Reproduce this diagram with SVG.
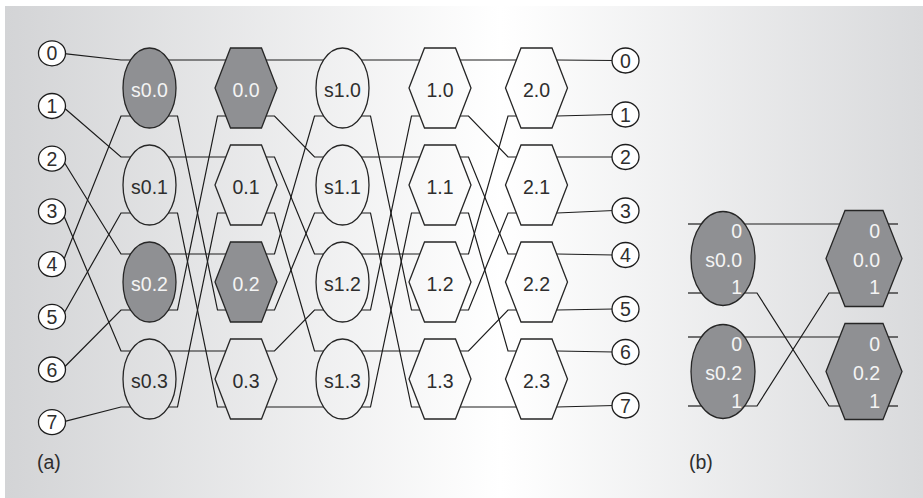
<svg xmlns="http://www.w3.org/2000/svg" width="923" height="498" viewBox="0 0 923 498">
  <defs>
    <linearGradient id="bg" gradientUnits="userSpaceOnUse" x1="5" y1="0" x2="923" y2="0">
      <stop offset="0" stop-color="#d3d4d6"/>
      <stop offset="0.54" stop-color="#ffffff"/>
      <stop offset="1" stop-color="#d9dadc"/>
    </linearGradient>
  </defs>
  <style>
    text { font-family: "Liberation Sans", Arial, sans-serif; font-size: 19.5px; }
    .wire { fill: none; stroke: #1c1c1c; stroke-width: 1.2; }
    .plain { fill: url(#bg); stroke: #262626; stroke-width: 1.3; }
    .dark { fill: #8f9093; stroke: #262626; stroke-width: 1.3; }
    .term { fill: #ffffff; stroke: #1c1c1c; stroke-width: 1.3; }
    .lbl { fill: #2e2e2e; text-anchor: middle; }
    .lblw { fill: #f4f4f4; text-anchor: middle; }
    .lblwr { fill: #f4f4f4; text-anchor: end; }
    .cap { fill: #2e2e2e; }
  </style>

  <!-- backdrop -->
  <rect x="0" y="0" width="923" height="498" fill="#ffffff"/>
  <rect x="5" y="6" width="918" height="492" fill="url(#bg)"/>

  <!-- wiring -->
  <g id="connectors" class="wire">
    <!-- inputs to first switch column -->
    <path d="M62 53.3 L121 60 H137"/>
    <path d="M62 106 L121 157 H137"/>
    <path d="M62 158.7 L121 254 H137"/>
    <path d="M62 211.4 L121 351 H137"/>
    <path d="M62 264.1 L121 116 H137"/>
    <path d="M62 316.8 L121 213 H137"/>
    <path d="M62 369.5 L121 310 H137"/>
    <path d="M62 422.2 L121 407 H137"/>
    <!-- s0 to stage 0 -->
    <path d="M162 60 H234"/>
    <path d="M162 116 H177.5 L217.5 310 H234"/>
    <path d="M162 157 H234"/>
    <path d="M162 213 H177.5 L217.5 407 H234"/>
    <path d="M162 254 H234"/>
    <path d="M162 310 H177.5 L217.5 116 H234"/>
    <path d="M162 351 H234"/>
    <path d="M162 407 H177.5 L217.5 213 H234"/>
    <!-- stage 0 to s1 -->
    <path d="M258 60 H330.5"/>
    <path d="M258 116 H274.5 L314.5 157 H330.5"/>
    <path d="M258 157 H274.5 L314.5 254 H330.5"/>
    <path d="M258 213 H274.5 L314.5 351 H330.5"/>
    <path d="M258 254 H274.5 L314.5 116 H330.5"/>
    <path d="M258 310 H274.5 L314.5 213 H330.5"/>
    <path d="M258 351 H274.5 L314.5 310 H330.5"/>
    <path d="M258 407 H330.5"/>
    <!-- s1 to stage 1 -->
    <path d="M354.5 60 H428"/>
    <path d="M354.5 116 H370.5 L411.5 310 H428"/>
    <path d="M354.5 157 H428"/>
    <path d="M354.5 213 H370.5 L411.5 407 H428"/>
    <path d="M354.5 254 H428"/>
    <path d="M354.5 310 H370.5 L411.5 116 H428"/>
    <path d="M354.5 351 H428"/>
    <path d="M354.5 407 H370.5 L411.5 213 H428"/>
    <!-- stage 1 to stage 2 -->
    <path d="M452 60 H524.5"/>
    <path d="M452 116 H468.5 L508 157 H524.5"/>
    <path d="M452 157 H468.5 L508 254 H524.5"/>
    <path d="M452 213 H468.5 L508 351 H524.5"/>
    <path d="M452 254 H468.5 L508 116 H524.5"/>
    <path d="M452 310 H468.5 L508 213 H524.5"/>
    <path d="M452 351 H468.5 L508 310 H524.5"/>
    <path d="M452 407 H524.5"/>
    <!-- stage 2 to outputs -->
    <path d="M548.5 60 H557 L614 60.5"/>
    <path d="M548.5 116 H557 L614 114.5"/>
    <path d="M548.5 157 H557 L614 157"/>
    <path d="M548.5 213 H557 L614 210.5"/>
    <path d="M548.5 254 H557 L614 255"/>
    <path d="M548.5 310 H557 L614 309"/>
    <path d="M548.5 351 H557 L614 352"/>
    <path d="M548.5 407 H557 L614 405.5"/>
    <!-- detail (b) -->
    <path d="M688 224 H712"/>
    <path d="M688 293 H712"/>
    <path d="M688 337 H712"/>
    <path d="M688 406 H712"/>
    <path d="M734 224 H852"/>
    <path d="M734 293 H757 L829 406 H852"/>
    <path d="M734 337 H852"/>
    <path d="M734 406 H757 L829 293 H852"/>
    <path d="M876 224 H898"/>
    <path d="M876 293 H898"/>
    <path d="M876 337 H898"/>
    <path d="M876 406 H898"/>
  </g>

  <!-- input terminals -->
  <g id="in0"><ellipse class="term" cx="52" cy="53.3" rx="13.5" ry="12.5"/><text class="lbl" x="52" y="60.3">0</text></g>
  <g id="in1"><ellipse class="term" cx="52" cy="106" rx="13.5" ry="12.5"/><text class="lbl" x="52" y="113">1</text></g>
  <g id="in2"><ellipse class="term" cx="52" cy="158.7" rx="13.5" ry="12.5"/><text class="lbl" x="52" y="165.7">2</text></g>
  <g id="in3"><ellipse class="term" cx="52" cy="211.4" rx="13.5" ry="12.5"/><text class="lbl" x="52" y="218.4">3</text></g>
  <g id="in4"><ellipse class="term" cx="52" cy="264.1" rx="13.5" ry="12.5"/><text class="lbl" x="52" y="271.1">4</text></g>
  <g id="in5"><ellipse class="term" cx="52" cy="316.8" rx="13.5" ry="12.5"/><text class="lbl" x="52" y="323.8">5</text></g>
  <g id="in6"><ellipse class="term" cx="52" cy="369.5" rx="13.5" ry="12.5"/><text class="lbl" x="52" y="376.5">6</text></g>
  <g id="in7"><ellipse class="term" cx="52" cy="422.2" rx="13.5" ry="12.5"/><text class="lbl" x="52" y="429.2">7</text></g>

  <!-- column s0 -->
  <g id="s0-0"><ellipse class="dark" cx="149.5" cy="88" rx="26.5" ry="40"/><text class="lblw" x="149.5" y="97">s0.0</text></g>
  <g id="s0-1"><ellipse class="plain" cx="149.5" cy="185" rx="26.5" ry="40"/><text class="lbl" x="149.5" y="194">s0.1</text></g>
  <g id="s0-2"><ellipse class="dark" cx="149.5" cy="282" rx="26.5" ry="40"/><text class="lblw" x="149.5" y="291">s0.2</text></g>
  <g id="s0-3"><ellipse class="plain" cx="149.5" cy="379" rx="26.5" ry="40"/><text class="lbl" x="149.5" y="388">s0.3</text></g>

  <!-- column 0 -->
  <g id="n0-0"><polygon class="dark" points="215,88 230.5,48 261.5,48 277,88 261.5,128 230.5,128"/><text class="lblw" x="246" y="97">0.0</text></g>
  <g id="n0-1"><polygon class="plain" points="215,185 230.5,145 261.5,145 277,185 261.5,225 230.5,225"/><text class="lbl" x="246" y="194">0.1</text></g>
  <g id="n0-2"><polygon class="dark" points="215,282 230.5,242 261.5,242 277,282 261.5,322 230.5,322"/><text class="lblw" x="246" y="291">0.2</text></g>
  <g id="n0-3"><polygon class="plain" points="215,379 230.5,339 261.5,339 277,379 261.5,419 230.5,419"/><text class="lbl" x="246" y="388">0.3</text></g>

  <!-- column s1 -->
  <g id="s1-0"><ellipse class="plain" cx="342.5" cy="88" rx="26.5" ry="40"/><text class="lbl" x="342.5" y="97">s1.0</text></g>
  <g id="s1-1"><ellipse class="plain" cx="342.5" cy="185" rx="26.5" ry="40"/><text class="lbl" x="342.5" y="194">s1.1</text></g>
  <g id="s1-2"><ellipse class="plain" cx="342.5" cy="282" rx="26.5" ry="40"/><text class="lbl" x="342.5" y="291">s1.2</text></g>
  <g id="s1-3"><ellipse class="plain" cx="342.5" cy="379" rx="26.5" ry="40"/><text class="lbl" x="342.5" y="388">s1.3</text></g>

  <!-- column 1 -->
  <g id="n1-0"><polygon class="plain" points="409,88 424.5,48 455.5,48 471,88 455.5,128 424.5,128"/><text class="lbl" x="440" y="97">1.0</text></g>
  <g id="n1-1"><polygon class="plain" points="409,185 424.5,145 455.5,145 471,185 455.5,225 424.5,225"/><text class="lbl" x="440" y="194">1.1</text></g>
  <g id="n1-2"><polygon class="plain" points="409,282 424.5,242 455.5,242 471,282 455.5,322 424.5,322"/><text class="lbl" x="440" y="291">1.2</text></g>
  <g id="n1-3"><polygon class="plain" points="409,379 424.5,339 455.5,339 471,379 455.5,419 424.5,419"/><text class="lbl" x="440" y="388">1.3</text></g>

  <!-- column 2 -->
  <g id="n2-0"><polygon class="plain" points="505.5,88 521,48 552,48 567.5,88 552,128 521,128"/><text class="lbl" x="536.5" y="97">2.0</text></g>
  <g id="n2-1"><polygon class="plain" points="505.5,185 521,145 552,145 567.5,185 552,225 521,225"/><text class="lbl" x="536.5" y="194">2.1</text></g>
  <g id="n2-2"><polygon class="plain" points="505.5,282 521,242 552,242 567.5,282 552,322 521,322"/><text class="lbl" x="536.5" y="291">2.2</text></g>
  <g id="n2-3"><polygon class="plain" points="505.5,379 521,339 552,339 567.5,379 552,419 521,419"/><text class="lbl" x="536.5" y="388">2.3</text></g>

  <!-- output terminals -->
  <g id="out0"><ellipse class="term" cx="625.5" cy="60.5" rx="13.5" ry="12.5"/><text class="lbl" x="625.5" y="67.5">0</text></g>
  <g id="out1"><ellipse class="term" cx="625.5" cy="114.5" rx="13.5" ry="12.5"/><text class="lbl" x="625.5" y="121.5">1</text></g>
  <g id="out2"><ellipse class="term" cx="625.5" cy="157" rx="13.5" ry="12.5"/><text class="lbl" x="625.5" y="164">2</text></g>
  <g id="out3"><ellipse class="term" cx="625.5" cy="210.5" rx="13.5" ry="12.5"/><text class="lbl" x="625.5" y="217.5">3</text></g>
  <g id="out4"><ellipse class="term" cx="625.5" cy="255" rx="13.5" ry="12.5"/><text class="lbl" x="625.5" y="262">4</text></g>
  <g id="out5"><ellipse class="term" cx="625.5" cy="309" rx="13.5" ry="12.5"/><text class="lbl" x="625.5" y="316">5</text></g>
  <g id="out6"><ellipse class="term" cx="625.5" cy="352" rx="13.5" ry="12.5"/><text class="lbl" x="625.5" y="359">6</text></g>
  <g id="out7"><ellipse class="term" cx="625.5" cy="405.5" rx="13.5" ry="12.5"/><text class="lbl" x="625.5" y="412.5">7</text></g>

  <!-- detail (b): port-labelled switches -->
  <g id="b-s0-0"><ellipse class="dark" cx="723" cy="258.5" rx="32" ry="47"/>
    <text class="lblwr" x="742" y="238">0</text><text class="lblwr" x="742" y="267">s0.0</text><text class="lblwr" x="742" y="294">1</text></g>
  <g id="b-s0-2"><ellipse class="dark" cx="723" cy="371.5" rx="32" ry="47"/>
    <text class="lblwr" x="742" y="351">0</text><text class="lblwr" x="742" y="380">s0.2</text><text class="lblwr" x="742" y="408">1</text></g>
  <g id="b-n0-0"><polygon class="dark" points="826,258.5 845,210.5 883,210.5 902,258.5 883,306.5 845,306.5"/>
    <text class="lblwr" x="880" y="238">0</text><text class="lblwr" x="880" y="267">0.0</text><text class="lblwr" x="880" y="294">1</text></g>
  <g id="b-n0-2"><polygon class="dark" points="826,371.5 845,323.5 883,323.5 902,371.5 883,419.5 845,419.5"/>
    <text class="lblwr" x="880" y="351">0</text><text class="lblwr" x="880" y="380">0.2</text><text class="lblwr" x="880" y="408">1</text></g>

  <!-- captions -->
  <text class="cap" x="37" y="469">(a)</text>
  <text class="cap" x="689" y="469">(b)</text>
</svg>
